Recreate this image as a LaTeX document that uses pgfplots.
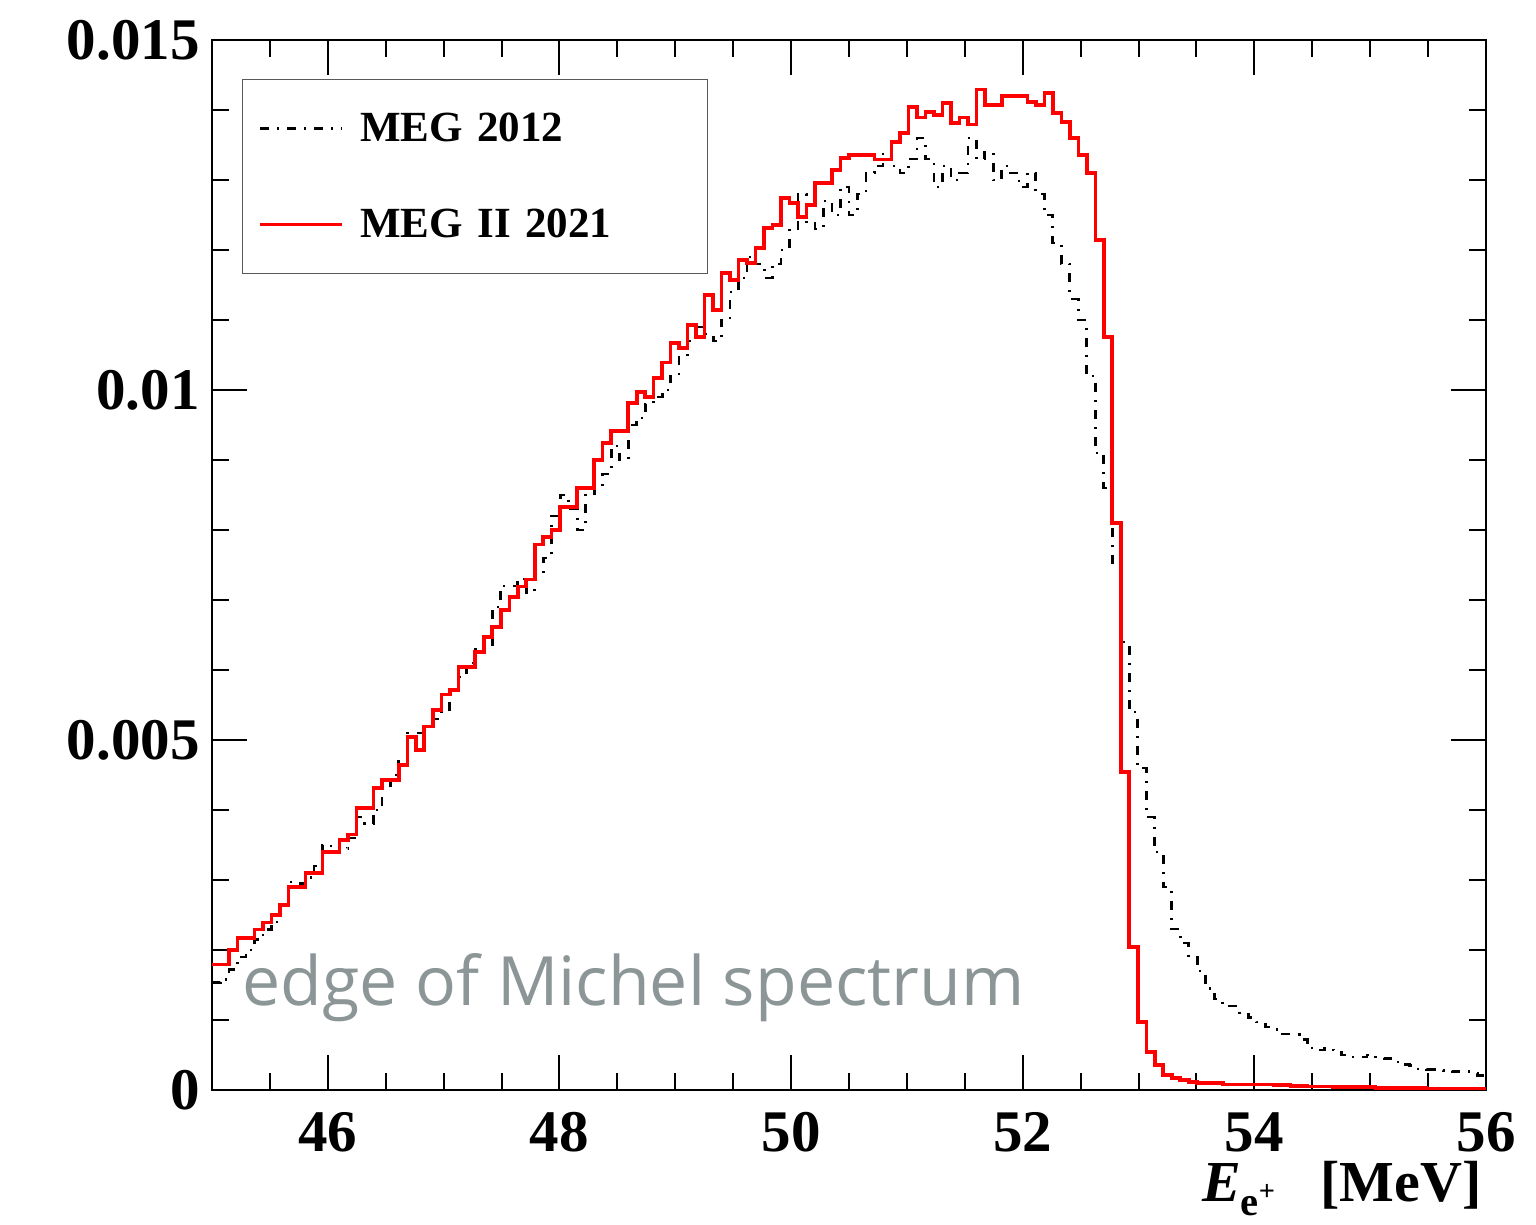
\documentclass[border=0pt]{standalone}
\usepackage{fontspec}
\setmainfont{Liberation Serif}
\newfontfamily\edgefont{Open Sans}
\usepackage{pgfplots}
\pgfplotsset{compat=1.18}
\usepackage{pgfplotstable}
\usetikzlibrary{calc}
\definecolor{edgegrey}{RGB}{140,150,150}
\pgfplotstableread{
x meg megii
45.000 0.00153 0.00179
45.073 0.00158 0.00179
45.147 0.00172 0.00200
45.220 0.00190 0.00217
45.293 0.00200 0.00217
45.367 0.00215 0.00229
45.440 0.00229 0.00239
45.513 0.00240 0.00250
45.587 0.00265 0.00264
45.660 0.00297 0.00290
45.733 0.00295 0.00290
45.807 0.00303 0.00310
45.880 0.00320 0.00310
45.953 0.00350 0.00340
46.027 0.00340 0.00340
46.100 0.00345 0.00357
46.173 0.00360 0.00365
46.247 0.00390 0.00403
46.320 0.00380 0.00403
46.393 0.00400 0.00431
46.467 0.00430 0.00443
46.540 0.00450 0.00443
46.613 0.00470 0.00464
46.687 0.00510 0.00504
46.760 0.00510 0.00486
46.833 0.00520 0.00519
46.907 0.00530 0.00543
46.980 0.00540 0.00565
47.053 0.00570 0.00571
47.127 0.00590 0.00604
47.200 0.00610 0.00604
47.273 0.00630 0.00626
47.347 0.00636 0.00647
47.420 0.00690 0.00661
47.493 0.00720 0.00686
47.567 0.00720 0.00704
47.640 0.00730 0.00719
47.713 0.00710 0.00729
47.787 0.00740 0.00779
47.860 0.00760 0.00790
47.933 0.00820 0.00800
48.007 0.00850 0.00833
48.080 0.00830 0.00833
48.153 0.00800 0.00860
48.227 0.00850 0.00860
48.300 0.00860 0.00900
48.373 0.00880 0.00924
48.447 0.00920 0.00941
48.520 0.00900 0.00941
48.593 0.00950 0.00981
48.667 0.00960 0.00997
48.740 0.00980 0.00990
48.813 0.00990 0.01017
48.887 0.01000 0.01039
48.960 0.01020 0.01067
49.033 0.01050 0.01060
49.107 0.01070 0.01093
49.180 0.01090 0.01076
49.253 0.01080 0.01136
49.327 0.01070 0.01114
49.400 0.01100 0.01167
49.473 0.01140 0.01157
49.547 0.01160 0.01186
49.620 0.01190 0.01181
49.693 0.01180 0.01203
49.767 0.01160 0.01231
49.840 0.01180 0.01236
49.913 0.01200 0.01274
49.987 0.01230 0.01267
50.060 0.01280 0.01247
50.133 0.01240 0.01264
50.207 0.01230 0.01296
50.280 0.01270 0.01296
50.353 0.01250 0.01314
50.427 0.01290 0.01331
50.500 0.01250 0.01336
50.573 0.01280 0.01336
50.647 0.01310 0.01336
50.720 0.01320 0.01329
50.793 0.01340 0.01329
50.867 0.01320 0.01354
50.940 0.01310 0.01367
51.013 0.01330 0.01404
51.087 0.01360 0.01389
51.160 0.01330 0.01397
51.233 0.01290 0.01393
51.307 0.01320 0.01410
51.380 0.01300 0.01381
51.453 0.01310 0.01389
51.527 0.01360 0.01379
51.600 0.01330 0.01429
51.673 0.01340 0.01407
51.747 0.01300 0.01407
51.820 0.01320 0.01420
51.893 0.01310 0.01420
51.967 0.01290 0.01420
52.040 0.01310 0.01411
52.113 0.01280 0.01407
52.187 0.01250 0.01424
52.260 0.01210 0.01396
52.333 0.01180 0.01383
52.407 0.01130 0.01360
52.480 0.01100 0.01336
52.553 0.01020 0.01310
52.627 0.00910 0.01214
52.700 0.00860 0.01076
52.773 0.00750 0.00810
52.847 0.00640 0.00454
52.920 0.00540 0.00204
52.993 0.00460 0.00097
53.067 0.00390 0.00054
53.140 0.00340 0.00036
53.213 0.00290 0.00021
53.287 0.00230 0.00017
53.360 0.00210 0.00014
53.433 0.00190 0.00011
53.507 0.00170 0.00010
53.580 0.00145 0.00010
53.653 0.00130 0.00010
53.727 0.00120 0.00008
53.800 0.00120 0.00008
53.873 0.00110 0.00008
53.947 0.00103 0.00008
54.020 0.00097 0.00008
54.093 0.00090 0.00008
54.167 0.00086 0.00007
54.240 0.00080 0.00007
54.313 0.00079 0.00006
54.387 0.00072 0.00006
54.460 0.00060 0.00005
54.533 0.00057 0.00005
54.607 0.00060 0.00005
54.680 0.00057 0.00004
54.753 0.00050 0.00004
54.827 0.00047 0.00004
54.900 0.00047 0.00004
54.973 0.00050 0.00004
55.047 0.00047 0.00003
55.120 0.00045 0.00003
55.193 0.00040 0.00003
55.267 0.00036 0.00003
55.340 0.00035 0.00003
55.413 0.00030 0.00003
55.487 0.00029 0.00002
55.560 0.00028 0.00002
55.633 0.00027 0.00002
55.707 0.00026 0.00002
55.780 0.00026 0.00002
55.853 0.00024 0.00002
55.927 0.00021 0.00002
56.000 0.00021 0.00002
}\spectra
\begin{document}
\begin{tikzpicture}
\begin{axis}[
  name=ax,
  scale only axis, width=637pt, height=525pt,
  xmin=45, xmax=56, ymin=0, ymax=0.015,
  xtick={46,48,...,56},
  minor xtick={45.5,46,...,55.5},
  ytick={0,0.005,0.01,0.015},
  yticklabels={0,0.005,0.01,0.015},
  minor ytick={0.001,0.002,0.003,0.004,0.006,0.007,0.008,0.009,0.011,0.012,0.013,0.014},
  scaled y ticks=false,
  tick align=inside,
  major tick length=17.5pt, minor tick length=8.5pt,
  tick style={black, line width=1pt},
  axis line style={line width=1.2pt},
  ticklabel style={font=\bfseries\fontsize{29.5}{32}\selectfont},
  /pgf/number format/assume math mode=true,
  xticklabel style={inner sep=0pt},
  yticklabel style={inner sep=0pt},
  xticklabel shift=11pt, yticklabel shift=6pt,
  xlabel={{\itshape E}\textsubscript{e\textsuperscript{+}}\hspace{0.75em}[MeV]},
  xlabel style={at={(rel axis cs:1,0)}, anchor=base east, inner sep=0pt,
    xshift=-2pt, yshift=-56pt, font=\bfseries\fontsize{29}{32}\selectfont},
  legend cell align=left,
  legend image code/.code={\draw[#1] (0pt,0pt) -- (41pt,0pt);},
  legend style={at={(0,1)}, anchor=north west, xshift=15pt, yshift=-19.5pt,
    draw=black!65, line width=0.7pt, inner xsep=8pt, inner ysep=0.5pt,
    row sep=0pt, column sep=8pt,
    font=\bfseries\fontsize{21.5}{26}\selectfont,
    nodes={inner sep=0pt, minimum height=48pt, text width=165.5pt, align=left}},
]
\addplot[const plot, black, line width=1.4pt,
  dash pattern=on 4.5pt off 4pt on 1pt off 4pt] table[x=x, y=meg] {\spectra};
\addlegendentry{MEG 2012}
\addplot[const plot, red, line width=1.8pt] table[x=x, y=megii] {\spectra};
\addlegendentry{MEG II 2021}
\node[anchor=base west, inner sep=0pt, text=edgegrey,
  font=\edgefont\fontsize{34}{37}\selectfont] at (axis cs:45.26,0.001214)
  {edge of Michel spectrum};
\end{axis}
\pgfresetboundingbox
\path[use as bounding box] ($(ax.south west)+(-106pt,-67.5pt)$) rectangle ($(ax.north east)+(25pt,20pt)$);
\end{tikzpicture}
\end{document}
